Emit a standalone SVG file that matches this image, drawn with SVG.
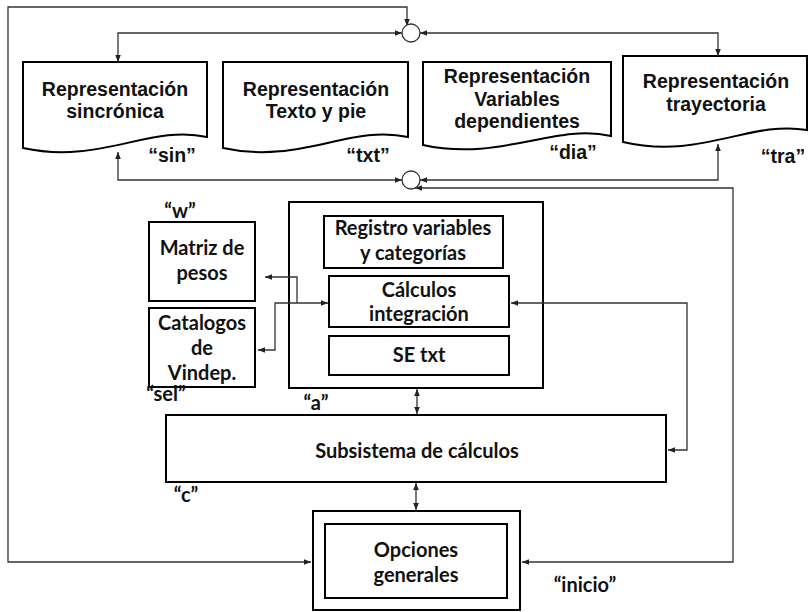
<svg xmlns="http://www.w3.org/2000/svg" width="808" height="612" viewBox="0 0 808 612">
<style>
.box{fill:#fff;stroke:#000;stroke-width:2}
.doc{fill:#fff;stroke:#000;stroke-width:2}
.ln{fill:none;stroke:#333;stroke-width:1.3}
.cir{fill:#fff;stroke:#333;stroke-width:1.3}
.ta{font-family:"Liberation Sans",Arial,sans-serif;font-weight:bold;font-size:19.5px;fill:#111;text-anchor:middle}
.tc{font-family:Lato,"Open Sans",sans-serif;font-weight:bold;font-size:20px;fill:#111;text-anchor:middle}
</style>
<defs>
<marker id="ar" viewBox="0 0 10 10" refX="10" refY="5" markerWidth="7" markerHeight="7" markerUnits="userSpaceOnUse" orient="auto-start-reverse"><path d="M0,1 L10,5 L0,9 Z" fill="#222"/></marker>
</defs>
<rect width="808" height="612" fill="#fff"/>

<g id="sin">
<path class="doc" d="M23,62 H207 V137 C150,124 100,165 23,148 Z"/>
<text class="ta" x="115" y="96">Representación</text>
<text class="ta" x="115" y="118">sincrónica</text>
<text class="ta" x="172" y="162">“sin”</text>
</g>
<g id="txt">
<path class="doc" d="M223,62 H408 V137 C350,124 300,165 223,148 Z"/>
<text class="ta" x="316" y="96">Representación</text>
<text class="ta" x="316" y="118">Texto y pie</text>
<text class="ta" x="368" y="162">“txt”</text>
</g>
<g id="dia">
<path class="doc" d="M423,62 H611 V136 C555,123 500,162 423,145 Z"/>
<text class="ta" x="517" y="83">Representación</text>
<text class="ta" x="517" y="106">Variables</text>
<text class="ta" x="517" y="128">dependientes</text>
<text class="ta" x="573" y="159">“dia”</text>
</g>
<g id="tra">
<path class="doc" d="M623,56 H807 V130 C750,120 700,160 623,142 Z"/>
<text class="ta" x="716" y="88">Representación</text>
<text class="ta" x="716" y="111">trayectoria</text>
<text class="ta" x="783" y="163">“tra”</text>
</g>

<g id="w">
<rect class="box" x="149" y="222" width="106" height="79"/>
<text class="tc" x="202" y="255">Matriz de</text>
<text class="tc" x="202" y="280">pesos</text>
<text class="tc" x="180" y="218">“w”</text>
</g>
<g id="sel">
<rect class="box" x="149" y="308" width="106" height="79"/>
<text class="tc" x="202" y="330">Catalogos</text>
<text class="tc" x="202" y="355">de</text>
<text class="tc" x="202" y="380">Vindep.</text>
<text class="tc" x="166" y="401">“sel”</text>
</g>

<g id="a">
<rect class="box" x="289" y="202" width="254" height="186"/>
<text class="tc" x="316" y="410">“a”</text>
</g>
<g id="registro">
<rect class="box" x="324" y="216" width="179" height="52"/>
<text class="tc" x="413" y="235">Registro variables</text>
<text class="tc" x="413" y="260">y categorías</text>
</g>
<g id="calculos">
<rect class="box" x="329" y="276" width="180" height="51"/>
<text class="tc" x="419" y="297">Cálculos</text>
<text class="tc" x="419" y="321">integración</text>
</g>
<g id="se-txt">
<rect class="box" x="329" y="336" width="180" height="39"/>
<text class="tc" x="419" y="362">SE txt</text>
</g>

<g id="c">
<rect class="box" x="166" y="415" width="500" height="67"/>
<text class="tc" x="417" y="458">Subsistema de cálculos</text>
<text class="tc" x="186" y="502">“c”</text>
</g>

<g id="inicio">
<rect class="box" x="313" y="511" width="207" height="99"/>
<rect class="box" x="325" y="524" width="182" height="74"/>
<text class="tc" x="416" y="557">Opciones</text>
<text class="tc" x="416" y="582">generales</text>
<text class="tc" x="585" y="592">“inicio”</text>
</g>

<g id="connectors">
<path class="ln" d="M407,26 V7 H8 V562 H311" marker-start="url(#ar)" marker-end="url(#ar)"/>
<path class="ln" d="M118,62 V33 H402" marker-start="url(#ar)" marker-end="url(#ar)"/>
<path class="ln" d="M718,56 V33 H420" marker-start="url(#ar)" marker-end="url(#ar)"/>
<path class="ln" d="M118,152 V180 H402" marker-start="url(#ar)" marker-end="url(#ar)"/>
<path class="ln" d="M718,144 V180 H420" marker-start="url(#ar)" marker-end="url(#ar)"/>
<path class="ln" d="M415,188 H733 V562 H522" marker-start="url(#ar)" marker-end="url(#ar)"/>
<path class="ln" d="M265,277 H297 V303" marker-start="url(#ar)"/>
<path class="ln" d="M258,350 H275 V303 H328" marker-start="url(#ar)" marker-end="url(#ar)"/>
<path class="ln" d="M511,303 H687 V450 H668" marker-start="url(#ar)" marker-end="url(#ar)"/>
<path class="ln" d="M417,389 V414" marker-start="url(#ar)" marker-end="url(#ar)"/>
<path class="ln" d="M416,483 V510" marker-start="url(#ar)" marker-end="url(#ar)"/>
</g>

<g id="sum-top"><circle class="cir" cx="411" cy="33" r="9"/></g>
<g id="sum-bottom"><circle class="cir" cx="411" cy="180" r="9"/></g>
</svg>
